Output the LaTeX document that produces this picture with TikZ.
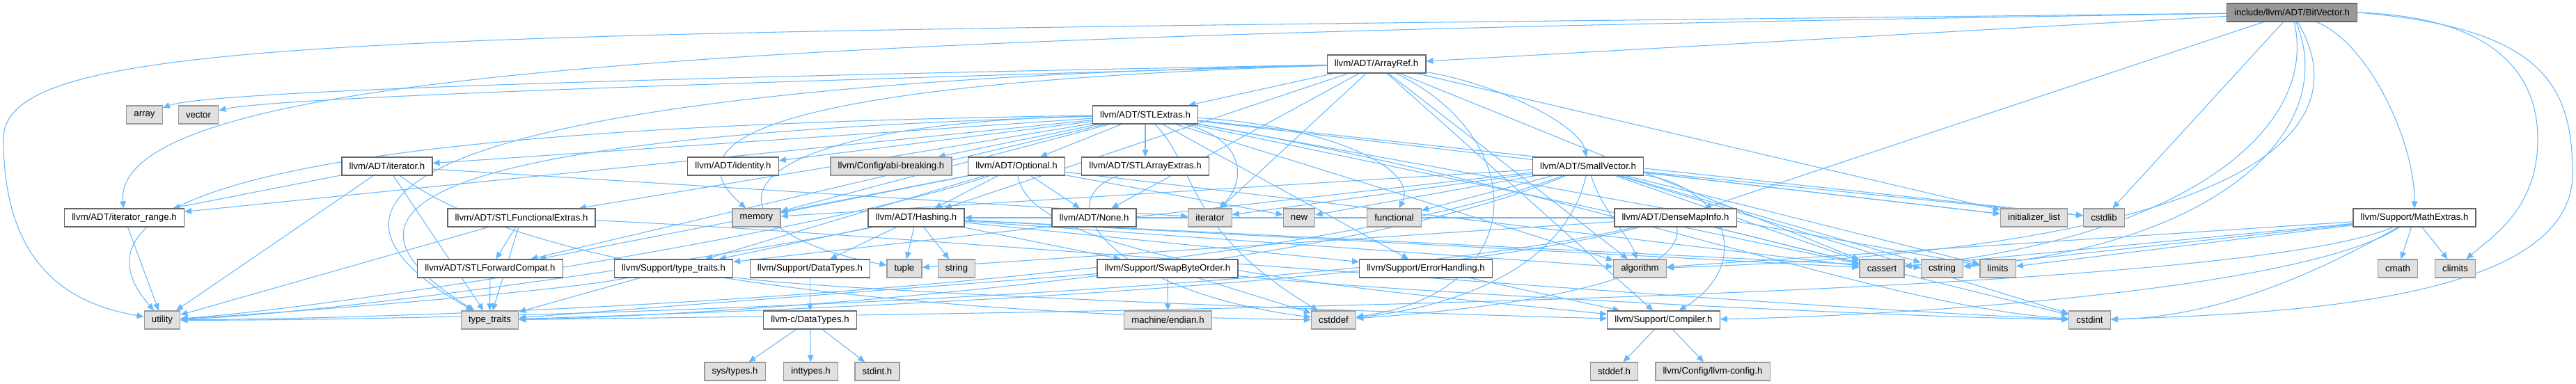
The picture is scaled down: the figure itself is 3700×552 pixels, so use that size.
\documentclass[tikz,border=0pt]{standalone}
\usepackage{fontspec}
\setmainfont{Liberation Sans}
\usetikzlibrary{arrows.meta, backgrounds}
\definecolor{depBlue}{HTML}{63B8FF}
\definecolor{hdrEdge}{HTML}{666666}
\definecolor{sysEdge}{HTML}{999999}
\definecolor{sysFill}{HTML}{E0E0E0}
\definecolor{rootFill}{HTML}{999999}
\tikzset{
  hdrbox/.style  = {draw=hdrEdge, fill=white, line width=1pt, minimum height=19.5pt,
                    inner xsep=8pt, inner ysep=0pt, font=\fontsize{9.9}{11}\selectfont},
  sysbox/.style  = {hdrbox, draw=sysEdge, fill=sysFill},
  rootbox/.style = {hdrbox, fill=rootFill},
  dep/.style     = {depBlue, line width=0.8pt, -{Triangle[length=7.5pt, width=6.5pt]}},
}

\begin{document}
\begin{tikzpicture}[x=0.75pt, y=-0.75pt]
  \useasboundingbox (0,0) rectangle (3700,552);

  % rank 0 and 1
  \node[rootbox] (bv)   at (3292,18) {include/llvm/ADT/BitVector.h};
  \node[hdrbox]  (aref) at (1977,92) {llvm/ADT/ArrayRef.h};

  % rank 2
  \node[sysbox] (array)  at (207.5,165) {array};
  \node[sysbox] (vector) at (285,165)   {vector};
  \node[hdrbox] (stlx)   at (1645,165)  {llvm/ADT/STLExtras.h};

  % rank 3
  \node[hdrbox] (iter)   at (556,239)  {llvm/ADT/iterator.h};
  \node[hdrbox] (ident)  at (1053,239) {llvm/ADT/identity.h};
  \node[sysbox] (abi)    at (1280,239) {llvm/Config/abi-breaking.h};
  \node[hdrbox] (opt)    at (1460,239) {llvm/ADT/Optional.h};
  \node[hdrbox] (stlarr) at (1645,239) {llvm/ADT/STLArrayExtras.h};
  \node[hdrbox] (smallv) at (2281,239) {llvm/ADT/SmallVector.h};

  % rank 4
  \node[hdrbox] (itrange)    at (178.5,313)  {llvm/ADT/iterator\_range.h};
  \node[hdrbox] (stlfun)     at (749,313)    {llvm/ADT/STLFunctionalExtras.h};
  \node[sysbox] (memory)     at (1086.5,313) {memory};
  \node[hdrbox] (hash)       at (1316,313)   {llvm/ADT/Hashing.h};
  \node[hdrbox] (none)       at (1571.5,313) {llvm/ADT/None.h};
  \node[sysbox] (iterator)   at (1738,313)   {iterator};
  \node[sysbox] (new)        at (1866,313)   {new};
  \node[sysbox] (functional) at (2002.5,313) {functional};
  \node[hdrbox] (dmi)        at (2406.5,313) {llvm/ADT/DenseMapInfo.h};
  \node[sysbox] (initlist)   at (2921.5,313) {initializer\_list};
  \node[sysbox] (cstdlib)    at (3022,313)   {cstdlib};
  \node[hdrbox] (mathx)      at (3468,313)   {llvm/Support/MathExtras.h};

  % rank 5
  \node[hdrbox] (stlfwd)    at (704,386)    {llvm/ADT/STLForwardCompat.h};
  \node[hdrbox] (stt)       at (967.5,386)  {llvm/Support/type\_traits.h};
  \node[hdrbox] (sdt)       at (1163.5,386) {llvm/Support/DataTypes.h};
  \node[sysbox] (tuple)     at (1299,386)   {tuple};
  \node[sysbox] (string)    at (1374,386)   {string};
  \node[hdrbox] (swap)      at (1677,386)   {llvm/Support/SwapByteOrder.h};
  \node[hdrbox] (errh)      at (2048,386)   {llvm/Support/ErrorHandling.h};
  \node[sysbox] (algorithm) at (2355.5,386) {algorithm};
  \node[sysbox] (cassert)   at (2703,386)   {cassert};
  \node[sysbox] (cstring)   at (2789.5,386) {cstring};
  \node[sysbox] (limits)    at (2869.5,386) {limits};
  \node[sysbox] (cmath)     at (3444,386)   {cmath};
  \node[sysbox] (climits)   at (3526.5,386) {climits};

  % rank 6
  \node[sysbox] (utility)  at (233,460)    {utility};
  \node[sysbox] (typetr)   at (703.5,460)  {type\_traits};
  \node[hdrbox] (cdt)      at (1163.5,460) {llvm-c/DataTypes.h};
  \node[sysbox] (endian)   at (1677.5,460) {machine/endian.h};
  \node[sysbox] (cstddef)  at (1915.5,460) {cstddef};
  \node[hdrbox] (compiler) at (2389.5,460) {llvm/Support/Compiler.h};
  \node[sysbox] (cstdint)  at (3001.5,460) {cstdint};

  % rank 7
  \node[sysbox] (systypes) at (1055.5,534) {sys/types.h};
  \node[sysbox] (inttypes) at (1164.5,534) {inttypes.h};
  \node[sysbox] (stdinth)  at (1260,534)   {stdint.h};
  \node[sysbox] (stddefh)  at (2318.5,534) {stddef.h};
  \node[sysbox] (llvmcfg)  at (2460,534)   {llvm/Config/llvm-config.h};

  \coordinate (leftbend)  at (5,200);
  \coordinate (rightbend) at (3695,250);
  \coordinate (limbend)   at (3645,200);

  \begin{pgfonlayer}{background}
    % BitVector.h
    \draw[dep] (bv) -- (aref);
    \draw[dep] (bv) -- (dmi);
    \draw[dep] (bv) -- (cstdlib);
    \draw[dep] (bv) .. controls (3400,60) and (3468,200) .. (mathx);
    \draw[dep] (bv) .. controls (3330,180) and (3150,340) .. (cassert);
    \draw[dep] (bv) .. controls (3360,180) and (3200,350) .. (cstring);
    \draw[dep] (bv) .. controls (3400,200) and (3200,360) .. (algorithm);
    \draw[dep] (bv.east) .. controls (3600,25) and (3645,120) .. (limbend)
                         .. controls (3645,300) and (3580,340) .. (climits);
    \draw[dep] (bv.east) .. controls (3650,40) and (3695,120) .. (rightbend)
                         .. controls (3695,430) and (3300,450) .. (cstdint);
    \draw[dep] (bv) .. controls (1200,50) and (160,90) .. (itrange);
    \draw[dep] (bv) .. controls (600,50) and (5,40) .. (leftbend)
                    .. controls (5,400) and (120,440) .. (utility);

    % ArrayRef.h
    \draw[dep] (aref) -- (hash);
    \draw[dep] (aref) -- (none);
    \draw[dep] (aref) .. controls (2150,120) and (2270,180) .. (smallv);
    \draw[dep] (aref) -- (stlx);
    \draw[dep] (aref) -- (compiler);
    \draw[dep] (aref) -- (algorithm);
    \draw[dep] (aref) .. controls (1000,110) and (300,130) .. (array);
    \draw[dep] (aref) .. controls (1000,120) and (400,140) .. (vector);
    \draw[dep] (aref) -- (cassert);
    \draw[dep] (aref) .. controls (2200,200) and (2200,420) .. (cstddef);
    \draw[dep] (aref) -- (initlist);
    \draw[dep] (aref) -- (iterator);
    \draw[dep] (aref) .. controls (1100,120) and (960,200) .. (memory);
    \draw[dep] (aref) .. controls (700,120) and (350,260) .. (typetr);

    % STLExtras.h
    \draw[dep] (stlx) -- (opt);
    \draw[dep] (stlx) -- (stlarr);
    \draw[dep] (stlx) -- (stlfwd);
    \draw[dep] (stlx) -- (stlfun);
    \draw[dep] (stlx) -- (ident);
    \draw[dep] (stlx) -- (iter);
    \draw[dep] (stlx) -- (itrange);
    \draw[dep] (stlx) -- (abi);
    \draw[dep] (stlx) -- (errh);
    \draw[dep] (stlx) -- (algorithm);
    \draw[dep] (stlx) -- (cassert);
    \draw[dep] (stlx) .. controls (1720,240) and (1700,330) .. (cstddef);
    \draw[dep] (stlx) .. controls (2300,280) and (2700,440) .. (cstdint);
    \draw[dep] (stlx) -- (cstdlib);
    \draw[dep] (stlx) .. controls (1900,180) and (2040,240) .. (functional);
    \draw[dep] (stlx) -- (initlist);
    \draw[dep] (stlx) .. controls (1790,200) and (1790,260) .. (iterator);
    \draw[dep] (stlx) -- (limits);
    \draw[dep] (stlx) -- (memory);
    \draw[dep] (stlx) .. controls (1000,180) and (1000,330) .. (tuple);
    \draw[dep] (stlx) .. controls (800,190) and (380,260) .. (typetr);
    \draw[dep] (stlx) .. controls (600,180) and (50,250) .. (utility);

    % Optional.h
    \draw[dep] (opt) -- (hash);
    \draw[dep] (opt) -- (none);
    \draw[dep] (opt) -- (stlfwd);
    \draw[dep] (opt) .. controls (1480,380) and (2000,420) .. (compiler);
    \draw[dep] (opt) -- (stt);
    \draw[dep] (opt) -- (cassert);
    \draw[dep] (opt) -- (memory);
    \draw[dep] (opt) -- (new);
    \draw[dep] (opt) .. controls (1200,330) and (500,440) .. (utility);

    % Hashing.h
    \draw[dep] (hash) -- (sdt);
    \draw[dep] (hash) -- (errh);
    \draw[dep] (hash) -- (swap);
    \draw[dep] (hash) -- (stt);
    \draw[dep] (hash) -- (algorithm);
    \draw[dep] (hash) -- (cassert);
    \draw[dep] (hash) -- (cstring);
    \draw[dep] (hash) -- (string);
    \draw[dep] (hash) -- (tuple);
    \draw[dep] (hash) .. controls (1100,360) and (500,450) .. (utility);

    % SmallVector.h
    \draw[dep] (smallv) .. controls (2480,270) and (2520,380) .. (compiler);
    \draw[dep] (smallv) -- (stt);
    \draw[dep] (smallv) .. controls (2300,300) and (2340,340) .. (algorithm);
    \draw[dep] (smallv) -- (cassert);
    \draw[dep] (smallv) .. controls (2250,380) and (2100,440) .. (cstddef);
    \draw[dep] (smallv) -- (cstdint);
    \draw[dep] (smallv) -- (cstdlib);
    \draw[dep] (smallv) -- (cstring);
    \draw[dep] (smallv) -- (functional);
    \draw[dep] (smallv) -- (initlist);
    \draw[dep] (smallv) -- (iterator);
    \draw[dep] (smallv) -- (limits);
    \draw[dep] (smallv) -- (memory);
    \draw[dep] (smallv) -- (new);
    \draw[dep] (smallv) .. controls (1900,400) and (1000,455) .. (typetr);
    \draw[dep] (smallv) .. controls (1800,420) and (600,458) .. (utility);

    % DenseMapInfo.h
    \draw[dep] (dmi) -- (hash);
    \draw[dep] (dmi) -- (cassert);
    \draw[dep] (dmi) .. controls (2420,400) and (2200,440) .. (cstddef);
    \draw[dep] (dmi) -- (cstdint);
    \draw[dep] (dmi) -- (tuple);
    \draw[dep] (dmi) .. controls (2000,420) and (1000,450) .. (typetr);
    \draw[dep] (dmi) .. controls (1900,430) and (600,462) .. (utility);

    % MathExtras.h
    \draw[dep] (mathx) .. controls (3300,420) and (2700,455) .. (compiler);
    \draw[dep] (mathx) -- (algorithm);
    \draw[dep] (mathx) -- (cassert);
    \draw[dep] (mathx) -- (climits);
    \draw[dep] (mathx) -- (cmath);
    \draw[dep] (mathx) .. controls (3350,380) and (3200,455) .. (cstdint);
    \draw[dep] (mathx) -- (cstring);
    \draw[dep] (mathx) -- (limits);
    \draw[dep] (mathx) .. controls (3200,430) and (1500,450) .. (typetr);

    % iterator.h and iterator_range.h
    \draw[dep] (iter) -- (itrange);
    \draw[dep] (iter) .. controls (800,420) and (1500,455) .. (cstddef);
    \draw[dep] (iter) -- (iterator);
    \draw[dep] (iter) -- (typetr);
    \draw[dep] (iter) -- (utility);
    \draw[dep] (itrange) -- (utility);

    % STLFunctionalExtras.h, STLForwardCompat.h, STLArrayExtras.h
    \draw[dep] (stlfun) -- (stlfwd);
    \draw[dep] (stlfun) .. controls (1200,330) and (2500,440) .. (cstdint);
    \draw[dep] (stlfun) -- (typetr);
    \draw[dep] (stlfun) -- (utility);
    \draw[dep] (stlfwd) -- (typetr);
    \draw[dep] (stlarr) .. controls (1500,290) and (1600,420) .. (cstddef);

    % Support headers
    \draw[dep] (stt) .. controls (1200,420) and (2000,450) .. (compiler);
    \draw[dep] (stt) -- (typetr);
    \draw[dep] (stt) .. controls (800,420) and (400,450) .. (utility);
    \draw[dep] (sdt) -- (cdt);
    \draw[dep] (cdt) -- (systypes);
    \draw[dep] (cdt) -- (inttypes);
    \draw[dep] (cdt) -- (stdinth);
    \draw[dep] (swap) -- (cstddef);
    \draw[dep] (swap) .. controls (2000,420) and (2700,455) .. (cstdint);
    \draw[dep] (swap) -- (typetr);
    \draw[dep] (swap) -- (endian);
    \draw[dep] (errh) -- (compiler);
    \draw[dep] (compiler) -- (stddefh);
    \draw[dep] (compiler) -- (llvmcfg);
  \end{pgfonlayer}
\end{tikzpicture}
\end{document}
